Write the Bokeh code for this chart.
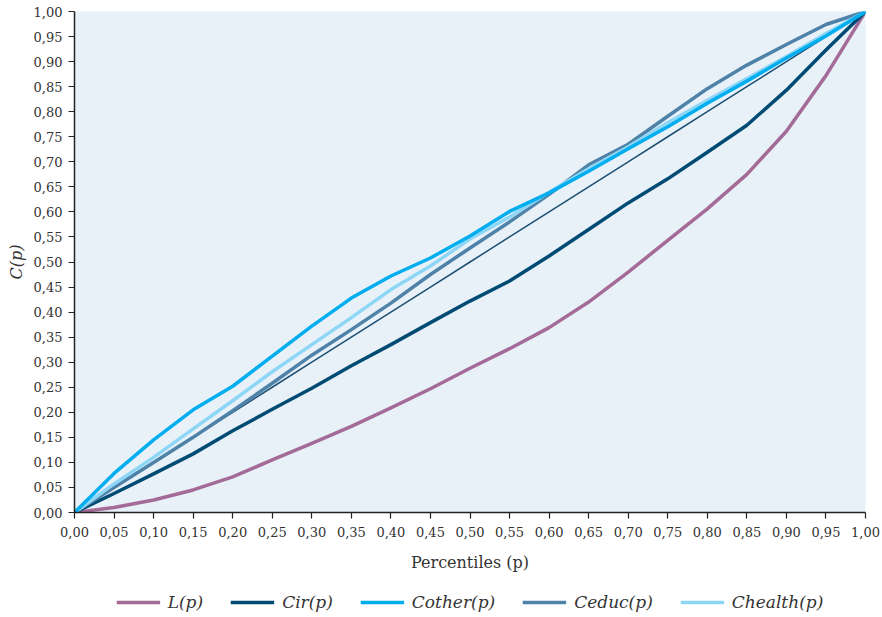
from bokeh.plotting import figure
from bokeh.layouts import column
from bokeh.models import Range1d, Legend, LegendItem, CustomJSTickFormatter, FixedTicker
from bokeh.embed import file_html
from bokeh.resources import INLINE

# Data
pct = [0.00, 0.05, 0.10, 0.15, 0.20, 0.25, 0.30, 0.35, 0.40, 0.45, 0.50,
       0.55, 0.60, 0.65, 0.70, 0.75, 0.80, 0.85, 0.90, 0.95, 1.00]
L_p = [0.000, 0.010, 0.025, 0.045, 0.071, 0.105, 0.138, 0.172, 0.209, 0.247, 0.288,
       0.327, 0.369, 0.420, 0.480, 0.543, 0.606, 0.675, 0.761, 0.872, 1.000]
Cir_p = [0.000, 0.038, 0.077, 0.117, 0.163, 0.206, 0.248, 0.293, 0.335, 0.379, 0.422,
         0.462, 0.512, 0.565, 0.618, 0.666, 0.719, 0.773, 0.843, 0.923, 1.000]
Cother_p = [0.000, 0.078, 0.145, 0.205, 0.252, 0.312, 0.372, 0.428, 0.472, 0.508, 0.552,
            0.601, 0.638, 0.681, 0.726, 0.770, 0.817, 0.861, 0.907, 0.951, 1.000]
Ceduc_p = [0.000, 0.050, 0.100, 0.150, 0.203, 0.258, 0.314, 0.365, 0.418, 0.475, 0.528,
           0.580, 0.635, 0.694, 0.735, 0.791, 0.846, 0.893, 0.934, 0.974, 1.000]
Chealth_p = [0.000, 0.057, 0.110, 0.167, 0.223, 0.281, 0.335, 0.389, 0.445, 0.492, 0.546,
             0.590, 0.639, 0.686, 0.730, 0.778, 0.823, 0.866, 0.910, 0.956, 1.000]
tick_vals = [i / 20 for i in range(21)]

FONT = "DejaVu Serif"
COLORS = {"L": "#a46b98", "Cir": "#004b73", "Cother": "#00aeef",
          "Ceduc": "#4f82a8", "Chealth": "#8ed6f6"}

p = figure(width=880, height=578, x_range=Range1d(0, 1), y_range=Range1d(0, 1),
           output_backend="svg", toolbar_location=None,
           min_border_left=74, min_border_right=15, min_border_top=11, min_border_bottom=66)

p.background_fill_color = "#e8f1f8"
p.border_fill_color = "white"
p.outline_line_color = None
p.grid.visible = False

fmt = CustomJSTickFormatter(code="return tick.toFixed(2).replace('.', ',');")
for ax in (p.xaxis[0], p.yaxis[0]):
    ax.ticker = FixedTicker(ticks=tick_vals)
    ax.formatter = fmt
    ax.minor_tick_line_color = None
    ax.major_tick_out = 6
    ax.major_tick_in = 0
    ax.major_tick_line_color = "#222222"
    ax.major_tick_line_width = 1.2
    ax.axis_line_color = "#222222"
    ax.axis_line_width = 1.5
    ax.major_label_text_font = FONT
    ax.major_label_text_font_size = "13px"
    ax.major_label_text_color = "#333333"
    ax.axis_label_text_font = FONT
    ax.axis_label_text_font_size = "16px"
    ax.axis_label_text_color = "#333333"
    ax.axis_label_text_font_style = "normal"

p.xaxis.axis_label = "Percentiles (p)"
p.yaxis.axis_label = "C(p)"
p.yaxis.axis_label_text_font_style = "italic"
p.xaxis.major_label_standoff = 8
p.yaxis.major_label_standoff = 6
p.xaxis.axis_label_standoff = 13
p.yaxis.axis_label_standoff = 5

# equality line
p.line(pct, pct, line_color="#1d4f73", line_width=1.5)

series = [("L(p)", L_p, COLORS["L"]), ("Cir(p)", Cir_p, COLORS["Cir"]),
          ("Ceduc(p)", Ceduc_p, COLORS["Ceduc"]), ("Chealth(p)", Chealth_p, COLORS["Chealth"]),
          ("Cother(p)", Cother_p, COLORS["Cother"])]
for name, ys, col in series:
    p.line(pct, ys, line_color=col, line_width=3.5, line_join="round")

# Legend figure (lines drawn outside its visible range; only the legend shows)
lg = figure(width=880, height=38, x_range=Range1d(10, 11), y_range=Range1d(10, 11),
            output_backend="svg", toolbar_location=None, x_axis_type=None, y_axis_type=None,
            min_border_left=74, min_border_right=15, min_border_top=0, min_border_bottom=0)
lg.outline_line_color = None
lg.grid.visible = False
lg.background_fill_color = "white"
lg.border_fill_color = "white"

order = [("L(p)", L_p, COLORS["L"]), ("Cir(p)", Cir_p, COLORS["Cir"]),
         ("Cother(p)", Cother_p, COLORS["Cother"]), ("Ceduc(p)", Ceduc_p, COLORS["Ceduc"]),
         ("Chealth(p)", Chealth_p, COLORS["Chealth"])]
items = []
for name, ys, col in order:
    r = lg.line(pct, ys, line_color=col, line_width=3.5)
    items.append(LegendItem(label=name, renderers=[r]))

legend = Legend(items=items, orientation="horizontal", location="bottom_center")
legend.label_text_font = FONT
legend.label_text_font_style = "italic"
legend.label_text_font_size = "17px"
legend.label_text_color = "#333333"
legend.glyph_width = 44
legend.label_standoff = 8
legend.spacing = 27
legend.border_line_color = None
legend.background_fill_alpha = 0
legend.margin = 4
legend.padding = 2
lg.add_layout(legend, "center")

open("out.html", "w").write(file_html(column(p, lg, spacing=0), INLINE))
